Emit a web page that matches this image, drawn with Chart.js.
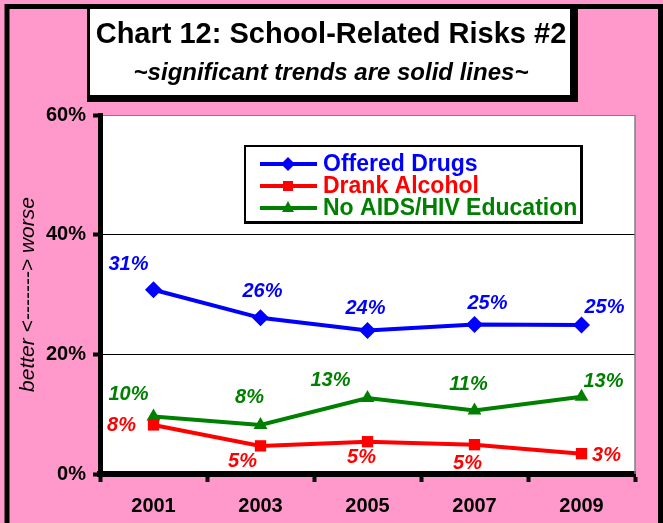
<!DOCTYPE html>
<html>
<head>
<meta charset="utf-8">
<title>Chart 12: School-Related Risks #2</title>
<script src="https://cdn.jsdelivr.net/npm/chart.js@4.4.0/dist/chart.umd.min.js"></script>
<style>
    html, body { margin: 0; padding: 0; background: #ff99cc; }
    #wrap { width: 663px; height: 523px; }
</style>
</head>
<body>
<div id="wrap"><canvas id="chart" width="663" height="523"></canvas></div>
<script>
const years = ["2001", "2003", "2005", "2007", "2009"];
const offeredDrugs = [30.8, 26.1, 24.0, 25.0, 24.9];
const drankAlcohol = [8.2, 4.7, 5.4, 4.9, 3.4];
const noAidsEducation = [9.6, 8.2, 12.7, 10.6, 12.9];
const yTicks = [0, 20, 40, 60];

const titleText = "Chart 12: School-Related Risks #2";
const subtitleText = "~significant trends are solid lines~";
const yTitle = "better <-------> worse";

// where each value label sits relative to its point, in px
const drugsLabelOffsets = [[-25, -25], [2, -26], [-2, -22], [13, -21], [23, -18]];
const alcoholLabelOffsets = [[-32, 1], [-18, 16], [-6, 16], [-7, 19], [25, 2]];
const aidsLabelOffsets = [[-25, -22], [-11, -27], [-37, -18], [-6, -26], [22, -15]];

const fontFamily = "'Liberation Sans', Arial, Helvetica, sans-serif";
const pink = "#ff99cc";

function drawMarker(ctx, style, x, y, color) {
    ctx.fillStyle = color;
    ctx.beginPath();
    if (style === "rectRot") {
        ctx.moveTo(x, y - 7);
        ctx.lineTo(x + 7, y);
        ctx.lineTo(x, y + 7);
        ctx.lineTo(x - 7, y);
    } else if (style === "rect") {
        ctx.rect(x - 5, y - 5, 10, 10);
    } else {
        ctx.moveTo(x, y - 7);
        ctx.lineTo(x + 6, y + 4);
        ctx.lineTo(x - 6, y + 4);
    }
    ctx.closePath();
    ctx.fill();
}

const framePlugin = {
    id: "frame",
    beforeDraw(chart) {
        const ctx = chart.ctx;
        const area = chart.chartArea;
        ctx.save();
        ctx.fillStyle = pink;
        ctx.fillRect(0, 0, chart.width, chart.height);
        ctx.strokeStyle = "#000";
        ctx.lineWidth = 5;
        ctx.strokeRect(7, 6.5, 653.5, 530);

        ctx.fillStyle = "#fff";
        ctx.fillRect(area.left, area.top, area.right - area.left, area.bottom - area.top);

        // title box + shadow
        ctx.fillStyle = "#000";
        ctx.fillRect(87, 7, 491, 95);
        ctx.fillStyle = "#fff";
        ctx.fillRect(90, 9, 480, 86);
        ctx.fillStyle = "#000";
        ctx.textAlign = "center";
        ctx.textBaseline = "middle";
        ctx.font = "bold 29px " + fontFamily;
        ctx.fillText(titleText, 331, 35);
        ctx.font = "italic bold 24px " + fontFamily;
        ctx.fillText(subtitleText, 331, 73);
        ctx.restore();
    },
    beforeDatasetsDraw(chart) {
        const ctx = chart.ctx;
        const area = chart.chartArea;
        ctx.save();
        ctx.strokeStyle = "#808080";
        ctx.lineWidth = 1.5;
        ctx.beginPath();
        ctx.moveTo(area.right, area.top);
        ctx.lineTo(area.right, area.bottom);
        ctx.stroke();
        ctx.restore();
    },
    afterDatasetsDraw(chart) {
        const ctx = chart.ctx;
        ctx.save();

        // value labels
        ctx.font = "italic bold 20px " + fontFamily;
        ctx.textAlign = "center";
        ctx.textBaseline = "middle";
        chart.data.datasets.forEach(function (ds, i) {
            const meta = chart.getDatasetMeta(i);
            meta.data.forEach(function (pt, j) {
                const off = ds.labelOffsets[j];
                ctx.fillStyle = ds.borderColor;
                ctx.fillText(Math.round(ds.data[j]) + "%", pt.x + off[0], pt.y + off[1]);
            });
        });

        // legend box
        ctx.fillStyle = "#000";
        ctx.fillRect(244, 145, 339, 79);
        ctx.fillStyle = "#fff";
        ctx.fillRect(246, 147, 334, 74);
        ctx.font = "bold 23px " + fontFamily;
        ctx.textAlign = "left";
        chart.data.datasets.forEach(function (ds, i) {
            const y = 164 + i * 22;
            ctx.strokeStyle = ds.borderColor;
            ctx.lineWidth = 4;
            ctx.beginPath();
            ctx.moveTo(260, y);
            ctx.lineTo(317, y);
            ctx.stroke();
            drawMarker(ctx, ds.pointStyle, 288, y, ds.borderColor);
            ctx.fillStyle = ds.borderColor;
            ctx.fillText(ds.label, 323, y + 1);
        });
        ctx.restore();
    },
};

function lineDataset(label, data, color, pointStyle, radius, offsets) {
    return {
        label: label,
        data: data,
        borderColor: color,
        backgroundColor: color,
        borderWidth: 4,
        pointStyle: pointStyle,
        pointRadius: radius,
        pointHoverRadius: radius,
        pointBorderWidth: 0,
        pointBackgroundColor: color,
        tension: 0,
        labelOffsets: offsets,
    };
}

new Chart(document.getElementById("chart"), {
    type: "line",
    data: {
        labels: years,
        datasets: [
            lineDataset("Offered Drugs", offeredDrugs, "#0000ff", "rectRot", 8.5, drugsLabelOffsets),
            lineDataset("Drank Alcohol", drankAlcohol, "#ff0000", "rect", 8, alcoholLabelOffsets),
            lineDataset("No AIDS/HIV Education", noAidsEducation, "#008000", "triangle", 8, aidsLabelOffsets),
        ],
    },
    options: {
        responsive: false,
        animation: false,
        devicePixelRatio: 1,
        layout: { padding: { top: 115, right: 28, left: 0, bottom: 0 } },
        plugins: {
            legend: { display: false },
            tooltip: { enabled: false },
        },
        scales: {
            x: {
                offset: true,
                grid: {
                    offset: true,
                    drawOnChartArea: false,
                    tickLength: 8,
                    tickWidth: 4,
                    tickColor: "#000",
                },
                border: { color: "#000", width: 6 },
                ticks: {
                    color: "#000",
                    padding: 12,
                    font: { family: fontFamily, size: 20, weight: "bold" },
                },
                afterFit(scale) { scale.height = 49; },
            },
            y: {
                min: 0,
                max: 60,
                afterBuildTicks(scale) {
                    scale.ticks = yTicks.map(function (v) { return { value: v }; });
                },
                grid: {
                    color: function (c) { return c.tick && c.tick.value === 60 ? "#808080" : "#000"; },
                    lineWidth: 1,
                    tickLength: 7,
                    tickWidth: 4,
                    tickColor: "#000",
                },
                border: { color: "#000", width: 5 },
                ticks: {
                    color: "#000",
                    padding: 7,
                    font: { family: fontFamily, size: 20, weight: "bold" },
                    callback: function (v) { return v + "%"; },
                },
                title: {
                    display: true,
                    text: yTitle,
                    color: "#000",
                    padding: { top: 16, bottom: 0 },
                    font: { family: fontFamily, size: 21, style: "italic" },
                },
                afterFit(scale) { scale.width = 100; },
            },
        },
    },
    plugins: [framePlugin],
});
</script>
</body>
</html>
